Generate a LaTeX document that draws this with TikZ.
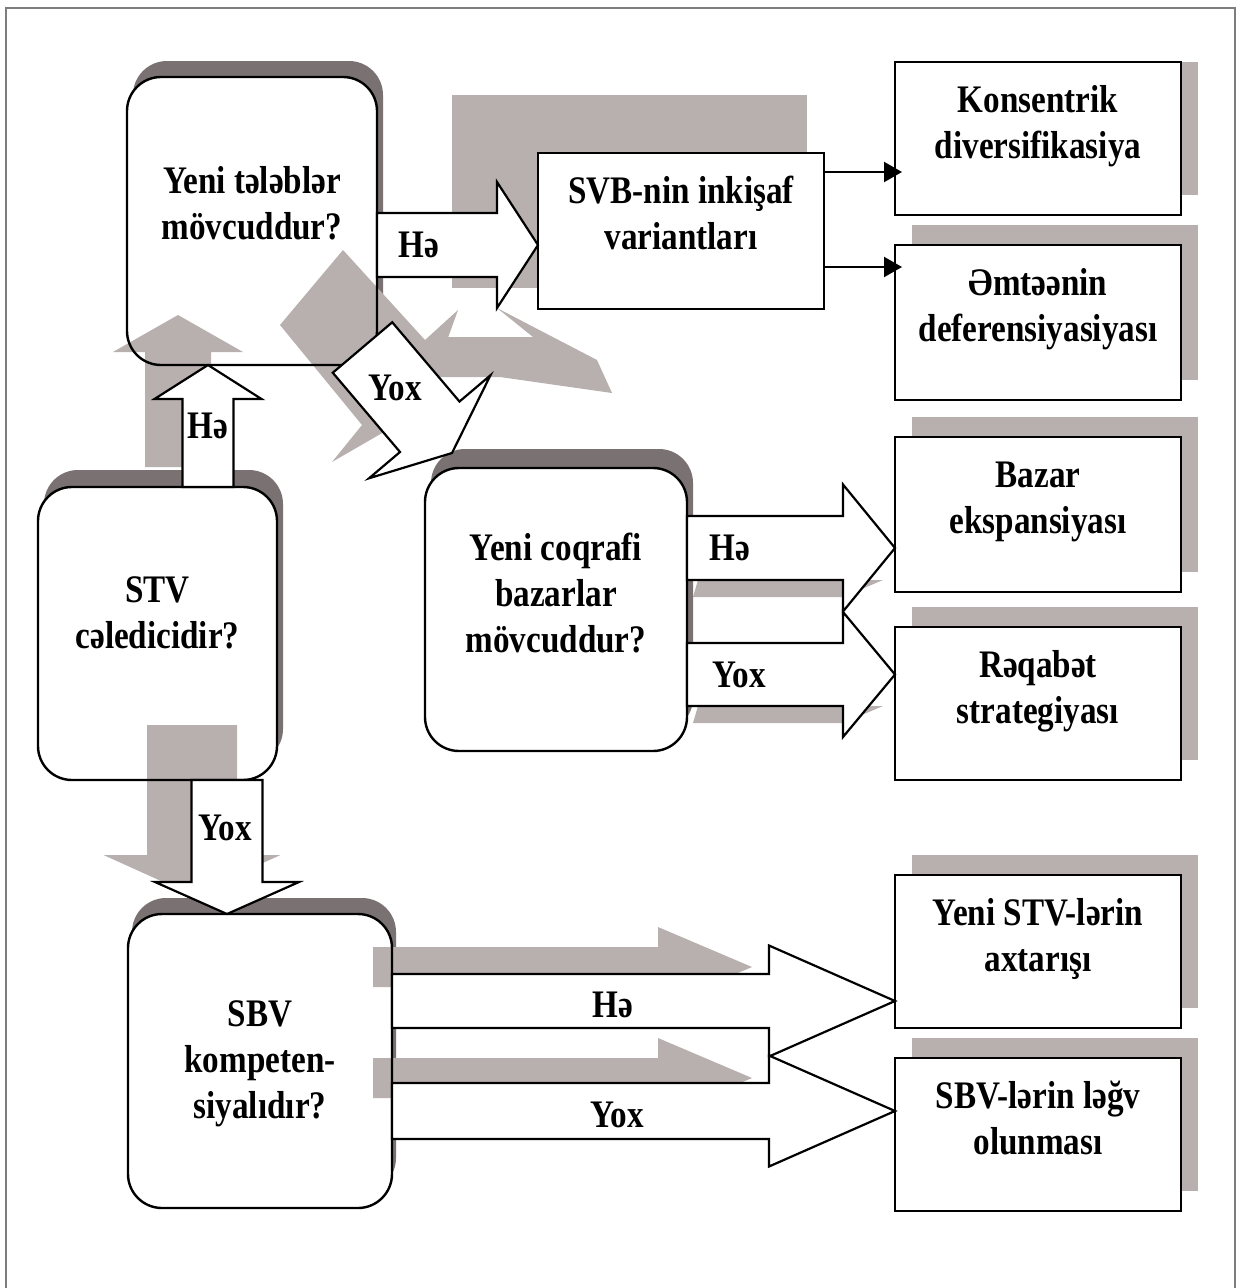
\documentclass[tikz,border=0pt]{standalone}
\usepackage{fontspec}
\setmainfont{Liberation Serif}[FakeStretch=0.85]
\usetikzlibrary{calc,arrows.meta}
\definecolor{dshadow}{RGB}{122,114,114}
\definecolor{lshadow}{RGB}{184,176,174}
\definecolor{framegray}{RGB}{125,125,125}
% block arrow: #1 style, #2 start, #3 tip, #4 shaft half width, #5 head half width, #6 head length
\newcommand{\blockarrow}[6]{%
  \coordinate (bahead) at ($#3!#6pt!#2$);
  \path[#1] ($#2!#4pt!90:#3$) -- ($(bahead)!#4pt!90:#3$) -- ($(bahead)!#5pt!90:#3$) -- #3
    -- ($(bahead)!#5pt!-90:#3$) -- ($(bahead)!#4pt!-90:#3$) -- ($#2!#4pt!-90:#3$) -- cycle;}
\tikzset{
  boxshape/.style={inner sep=0pt, outer sep=0pt},
  bord/.style={draw=black, line width=2.4pt},
  barw/.style={fill=white, draw=black, line width=2.2pt, line join=miter},
  txt/.style={font=\fontsize{39}{46}\selectfont\bfseries, align=center, inner sep=0pt, anchor=north},
  lbl/.style={font=\fontsize{39}{46}\selectfont\bfseries, inner sep=0pt, anchor=base},
  thinarrow/.style={line width=2.2pt, -{Triangle[length=18pt,width=20pt]}},
}
\begin{document}
\begin{tikzpicture}[x=1pt,y=-1pt]
\useasboundingbox (0,0) rectangle (1241,1288);
% ---------- box positions (named) ----------
\node[boxshape, minimum width=250pt, minimum height=288pt] (A) at (252,221) {};
\node[boxshape, minimum width=286pt, minimum height=156pt] (B) at (681,231) {};
\node[boxshape, minimum width=286pt, minimum height=153pt] (C) at (1038,138.5) {};
\node[boxshape, minimum width=286pt, minimum height=155pt] (D) at (1038,322.5) {};
\node[boxshape, minimum width=239pt, minimum height=293pt] (E) at (157.5,633.5) {};
\node[boxshape, minimum width=262pt, minimum height=283pt] (F) at (556,609.5) {};
\node[boxshape, minimum width=286pt, minimum height=155pt] (G) at (1038,514.5) {};
\node[boxshape, minimum width=286pt, minimum height=153pt] (H) at (1038,703.5) {};
\node[boxshape, minimum width=264pt, minimum height=294pt] (I) at (260,1061) {};
\node[boxshape, minimum width=286pt, minimum height=153pt] (J) at (1038,951.5) {};
\node[boxshape, minimum width=286pt, minimum height=153pt] (K) at (1038,1134.5) {};
% ---------- frame ----------
\draw[framegray, line width=1.5pt] (6,1288) -- (6,8) -- (1235,8) -- (1235,1288);
% ---------- back shadows ----------
\fill[lshadow] (452,95) rectangle (807,288);
\fill[lshadow] ($(C.south west)+(17,-20)$) rectangle ($(C.north east)+(17,0)$);
\foreach \b in {D,G,H,J,K}
  \fill[lshadow] ($(\b.south west)+(17,-20)$) rectangle ($(\b.north east)+(17,-20)$);
\fill[dshadow, rounded corners=34pt] ($(A.south west)+(6,-16)$) rectangle ($(A.north east)+(6,-16)$);
\fill[dshadow, rounded corners=34pt] ($(E.south west)+(6,-17)$) rectangle ($(E.north east)+(6,-17)$);
\fill[dshadow, rounded corners=34pt] ($(F.south west)+(6,-19)$) rectangle ($(F.north east)+(6,-19)$);
\fill[dshadow, rounded corners=34pt] ($(I.south west)+(4,-16)$) rectangle ($(I.north east)+(4,-16)$);
% ---------- box fills ----------
\foreach \b in {A,E,F,I}
  \fill[white, rounded corners=34pt] (\b.south west) rectangle (\b.north east);
\foreach \b in {B,C,D,G,H,J,K}
  \fill[white] (\b.south west) rectangle (\b.north east);
% ---------- arrow shadows ----------
\coordinate (su1) at (178,467); \coordinate (su2) at (178,315);
\blockarrow{fill=lshadow}{(su1)}{(su2)}{33}{65}{37}
\coordinate (sd1) at (192,725); \coordinate (sd2) at (192,895);
\blockarrow{fill=lshadow}{(sd1)}{(sd2)}{45}{88.5}{40}
\fill[lshadow] (343,250) -- (425,340) -- (458,310) -- (422,410) -- (332,462) -- (362,425) -- (280,325) -- cycle;
\fill[lshadow] (428,337) -- (533,337) -- (497,308) -- (597,360) -- (612,393) -- (500,377) -- (430,377) -- cycle;
\fill[lshadow] (698,580) -- (883,580) -- (843,597) -- (693,597) -- cycle;
\fill[lshadow] (698,706) -- (883,706) -- (843,723) -- (693,723) -- cycle;
\fill[lshadow] (373,947) -- (658,947) -- (658,927) -- (752,967) -- (658,1007) -- (658,987) -- (373,987) -- cycle;
\fill[lshadow] (373,1058) -- (658,1058) -- (658,1038) -- (752,1078) -- (658,1118) -- (658,1098) -- (373,1098) -- cycle;
% ---------- box borders ----------
\foreach \b in {A,E,F,I}
  \draw[bord, rounded corners=34pt] (\b.south west) rectangle (\b.north east);
\foreach \b in {B,C,D,G,H,J,K}
  \draw[bord] (\b.south west) rectangle (\b.north east);
% ---------- connectors ----------
\coordinate (ab1) at (A.east |- 0,245); \coordinate (ab2) at (B.west |- 0,245);
\blockarrow{barw}{(ab1)}{(ab2)}{32}{63}{41}
\coordinate (ea1) at (208,0 |- E.north); \coordinate (ea2) at (208,0 |- A.south);
\blockarrow{barw}{(ea1)}{(ea2)}{25.5}{53.5}{34}
\coordinate (ei1) at (227,0 |- E.south); \coordinate (ei2) at (227,0 |- I.north);
\blockarrow{barw}{(ei1)}{(ei2)}{35.5}{72}{32}
\coordinate (af1) at (362.5,347.5); \coordinate (af2) at (452,453);
\blockarrow{barw}{(af1)}{(af2)}{39}{79.6}{34.4}
\coordinate (fg1) at (F.east |- 0,548); \coordinate (fg2) at (G.west |- 0,548);
\blockarrow{barw}{(fg1)}{(fg2)}{32}{63.5}{52}
\coordinate (fh1) at (F.east |- 0,674.5); \coordinate (fh2) at (H.west |- 0,674.5);
\blockarrow{barw}{(fh1)}{(fh2)}{31.5}{62.5}{52}
\coordinate (ij1) at (I.east |- 0,1001); \coordinate (ij2) at (J.west |- 0,1001);
\blockarrow{barw}{(ij1)}{(ij2)}{27}{55.5}{126}
\coordinate (ik1) at (I.east |- 0,1111); \coordinate (ik2) at (K.west |- 0,1111);
\blockarrow{barw}{(ik1)}{(ik2)}{28}{55.5}{126}
\coordinate (bc2) at ($(C.west |- 0,172)+(7,0)$);
\draw[thinarrow] (B.east |- 0,172) -- (bc2);
\coordinate (bd2) at ($(D.west |- 0,267)+(7,0)$);
\draw[thinarrow] (B.east |- 0,267) -- (bd2);
% ---------- texts ----------
\node[txt] (tA) at (252,166) {\rule{0pt}{27pt}Yeni tələblər\\mövcuddur?};
\node[txt] (tB) at (681,176) {\rule{0pt}{27pt}SVB-nin inkişaf\\variantları};
\node[txt] (tC) at (1038,85) {\rule{0pt}{27pt}Konsentrik\\diversifikasiya};
\node[txt] (tD) at (1038,268) {\rule{0pt}{27pt}Əmtəənin\\deferensiyasiyası};
\node[txt] (tE) at (157.5,575) {\rule{0pt}{27pt}STV\\cəledicidir?};
\node[txt] (tF) at (556,533) {\rule{0pt}{27pt}Yeni coqrafi\\bazarlar\\mövcuddur?};
\node[txt] (tG) at (1038,460) {\rule{0pt}{27pt}Bazar\\ekspansiyası};
\node[txt] (tH) at (1038,650) {\rule{0pt}{27pt}Rəqabət\\strategiyası};
\node[txt] (tI) at (260,999) {\rule{0pt}{27pt}SBV\\kompeten-\\siyalıdır?};
\node[txt] (tJ) at (1038,898) {\rule{0pt}{27pt}Yeni STV-lərin\\axtarışı};
\node[txt] (tK) at (1038,1081) {\rule{0pt}{27pt}SBV-lərin ləğv\\olunması};
% ---------- arrow labels ----------
\node[lbl] (lab) at (419,257) {Hə};
\node[lbl] (lea) at (208,438) {Hə};
\node[lbl] (laf) at (395,400) {Yox};
\node[lbl] (lei) at (225,840) {Yox};
\node[lbl] (lfg) at (730,560) {Hə};
\node[lbl] (lfh) at (739,687) {Yox};
\node[lbl] (lij) at (613,1017) {Hə};
\node[lbl] (lik) at (617,1127) {Yox};
\end{tikzpicture}
\end{document}
